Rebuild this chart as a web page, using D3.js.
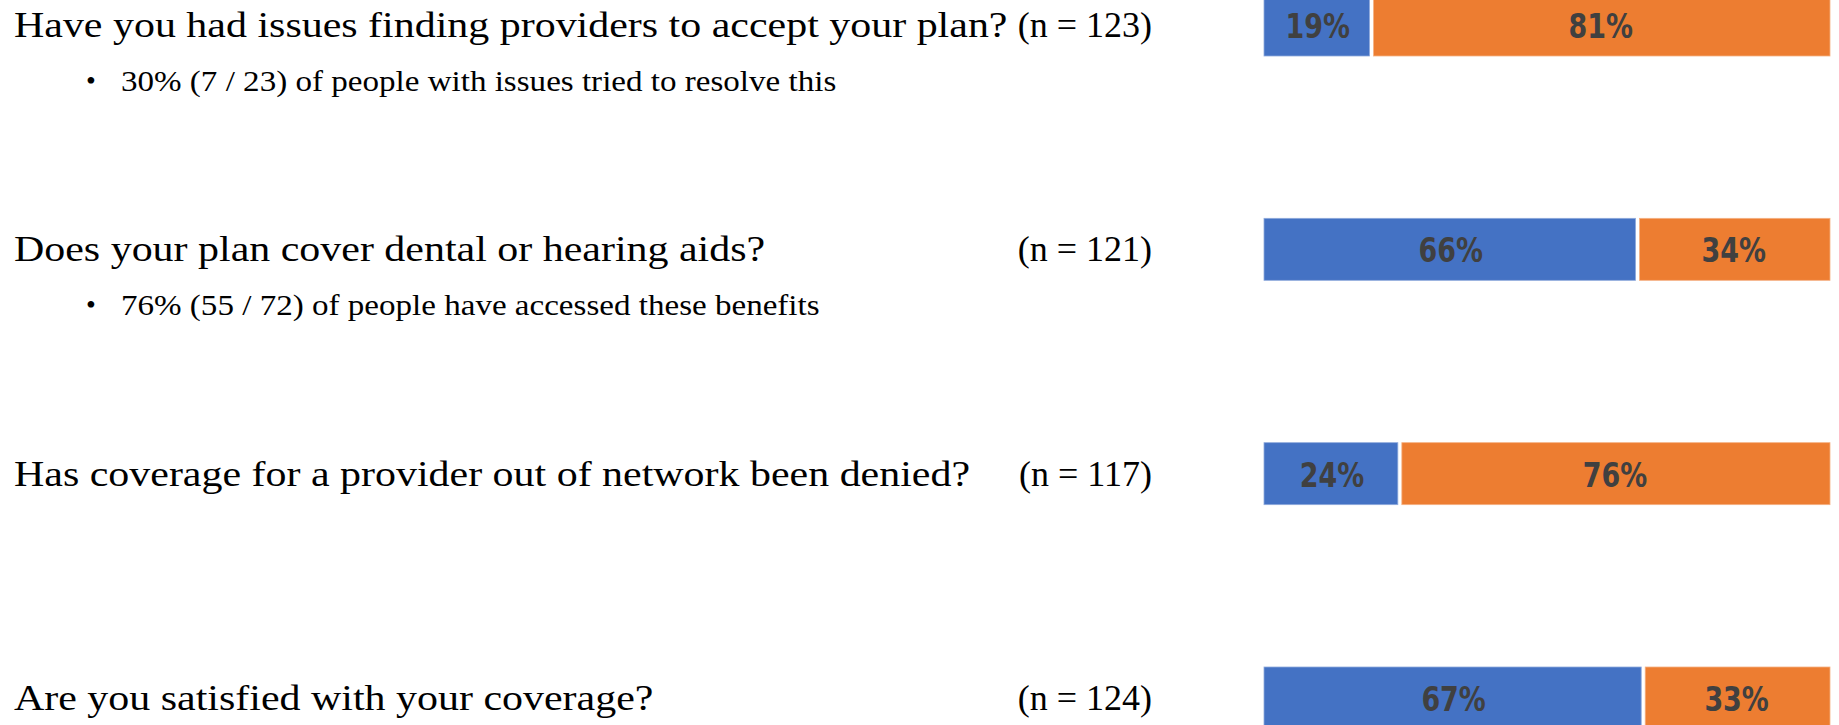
<!DOCTYPE html>
<html>
<head>
<meta charset="utf-8">
<script src="https://cdn.jsdelivr.net/npm/d3@7"></script>
<style>
  body { margin: 0; background: #fff; }
  svg { display: block; }
</style>
</head>
<body>
<svg id="chart"></svg>
<script>
// survey questions, one row each
var questions = [
    'Have you had issues finding providers to accept your plan?',
    'Does your plan cover dental or hearing aids?',
    'Has coverage for a provider out of network been denied?',
    'Are you satisfied with your coverage?'
]
var sampleSizes = [123, 121, 117, 124]
var notes = [
    '30% (7 / 23) of people with issues tried to resolve this',
    '76% (55 / 72) of people have accessed these benefits',
    null,
    null
]
// share answering yes (blue) and no (orange), in percent
var yesValues = [19, 66, 24, 67]
var noValues = [81, 34, 76, 33]

var width = 1839
var height = 725
var barHeight = 62
var gap = 2

var svg = d3.select('#chart')
    .attr('width', width)
    .attr('height', height)

var rows = questions.map(function(q, i) {
    return { q: q, n: sampleSizes[i], note: notes[i], yes: yesValues[i], no: noValues[i] }
})

var y = d3.scalePoint()
    .domain(d3.range(rows.length))
    .range([25, 698])

var x = d3.scaleLinear()
    .domain([0, 100])
    .range([1264, 1830])

var row = svg.selectAll('g.row')
    .data(rows)
    .enter().append('g')
    .attr('class', 'row')
    .attr('transform', function(d, i) { return 'translate(0,' + y(i) + ')' })

// the installed fonts are narrower/wider than the original ones, so stretch them
function widen(k) {
    return function(sel) {
        sel.each(function() {
            var w = this.getComputedTextLength()
            d3.select(this).attr('textLength', w * k).attr('lengthAdjust', 'spacingAndGlyphs')
        })
    }
}

row.append('text')
    .attr('x', 14)
    .attr('y', 12)
    .attr('font-family', 'Liberation Serif, serif')
    .attr('font-size', 36)
    .attr('fill', '#000')
    .text(function(d) { return d.q })
    .call(widen(1.165))

row.append('text')
    .attr('x', 1152)
    .attr('y', 12)
    .attr('text-anchor', 'end')
    .attr('font-family', 'Liberation Serif, serif')
    .attr('font-size', 36)
    .attr('fill', '#000')
    .text(function(d) { return '(n = ' + d.n + ')' })

var noted = row.filter(function(d) { return d.note })
noted.append('text')
    .attr('x', 86)
    .attr('y', 65)
    .attr('font-family', 'Liberation Serif, serif')
    .attr('font-size', 28)
    .text('\u2022')
noted.append('text')
    .attr('x', 121)
    .attr('y', 66)
    .attr('font-family', 'Liberation Serif, serif')
    .attr('font-size', 29)
    .attr('fill', '#000')
    .text(function(d) { return d.note })
    .call(widen(1.14))

// stacked 100% bars
row.append('rect')
    .attr('x', x(0))
    .attr('y', -barHeight / 2)
    .attr('width', function(d) { return x(d.yes) - x(0) - gap })
    .attr('height', barHeight)
    .attr('fill', '#4472c4')
    .attr('stroke', '#8faadc')
    .attr('stroke-width', 0.8)

row.append('rect')
    .attr('x', function(d) { return x(d.yes) + gap })
    .attr('y', -barHeight / 2)
    .attr('width', function(d) { return x(100) - x(d.yes) - gap })
    .attr('height', barHeight)
    .attr('fill', '#ed7d31')
    .attr('stroke', '#f4b183')
    .attr('stroke-width', 0.8)

var labelFont = 'Liberation Sans Narrow, DejaVu Sans Condensed, Arial Narrow, sans-serif'

function pctLabel(sel, cx, val) {
    sel.append('text')
        .attr('x', cx)
        .attr('y', 1)
        .attr('dy', '0.35em')
        .attr('text-anchor', 'middle')
        .attr('font-family', labelFont)
        .attr('font-weight', 'bold')
        .attr('font-size', 34)
        .attr('fill', '#404040')
        .text(function(d) { return val(d) + '%' })
        .call(widen(0.88))
}

pctLabel(row, function(d) { return (x(0) + x(d.yes)) / 2 }, function(d) { return d.yes })
pctLabel(row, function(d) { return (x(d.yes) + x(100)) / 2 }, function(d) { return d.no })
</script>
</body>
</html>
